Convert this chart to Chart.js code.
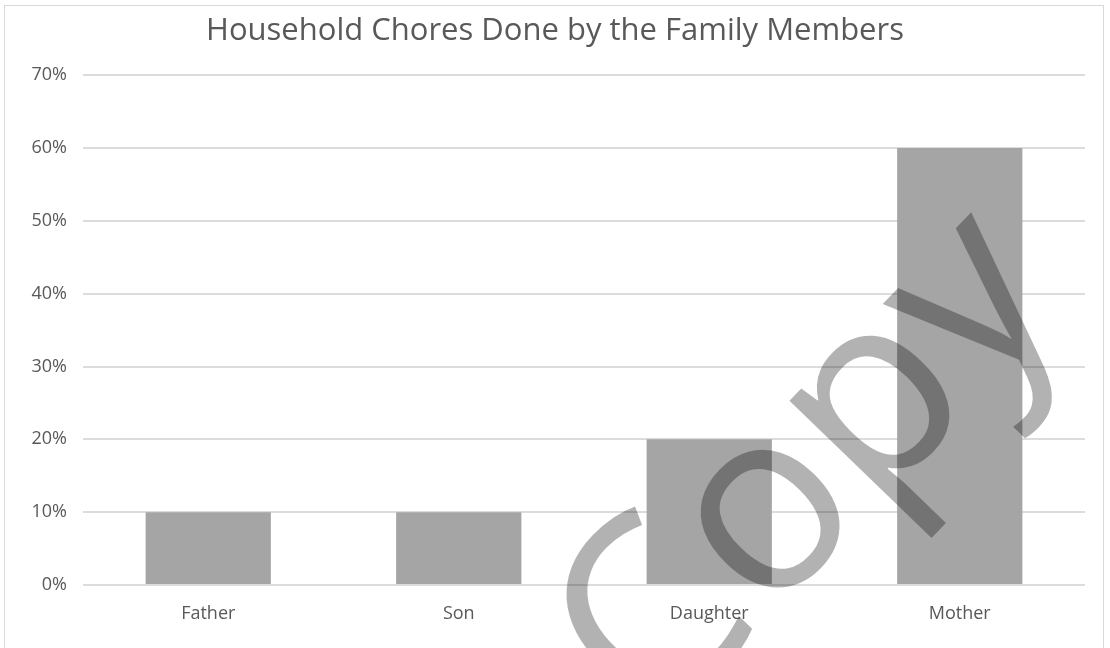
<!DOCTYPE html>
<html>
<head>
<meta charset="utf-8">
<script src="https://cdn.jsdelivr.net/npm/chart.js@4.4.1/dist/chart.umd.min.js"></script>
<style>
  html, body { margin: 0; padding: 0; background: #fff; overflow: hidden; }
  #wrap { position: relative; width: 1110px; height: 648px; }
  #frame { position: absolute; left: 4px; top: 5px; width: 1100px; height: 700px; border: 1px solid #d9d9d9; box-sizing: border-box; }
  canvas { position: absolute; left: 0; top: 0; }
</style>
</head>
<body>
<div id="wrap">
  <div id="frame"></div>
  <canvas id="c" width="1110" height="648"></canvas>
</div>
<script>
const chartTitle = "Household Chores Done by the Family Members";
const categories = ["Father", "Son", "Daughter", "Mother"];
const shares = [0.10, 0.10, 0.20, 0.60];
const yTicks = [0, 0.1, 0.2, 0.3, 0.4, 0.5, 0.6, 0.7];
const watermarkText = "Copy";

const textColor = "#595959";
const gridColor = "#dcdcdc";
const barColor = "#a5a5a5";
const FONT = "'Open Sans', 'Noto Sans', sans-serif";

const watermark = {
  id: "watermark",
  afterDraw(chart) {
    const ctx = chart.ctx;
    ctx.save();
    ctx.font = "255px " + FONT;
    ctx.fillStyle = "rgba(0,0,0,0.3)";
    ctx.textBaseline = "alphabetic";
    ctx.translate(770, 518);
    ctx.rotate(-46 * Math.PI / 180);
    ctx.fillText(watermarkText, -238, 69);
    ctx.restore();
  }
};

new Chart(document.getElementById("c"), {
  type: "bar",
  data: {
    labels: categories,
    datasets: [{
      data: shares,
      backgroundColor: barColor,
      borderWidth: 0,
      categoryPercentage: 0.5,
      barPercentage: 1.0
    }]
  },
  options: {
    responsive: false,
    animation: false,
    devicePixelRatio: 1,
    layout: { padding: 0 },
    plugins: {
      legend: { display: false },
      tooltip: { enabled: false },
      title: {
        display: true,
        text: chartTitle,
        color: textColor,
        font: { family: FONT, size: 31, weight: "normal" },
        padding: { top: 13, bottom: 25 }
      }
    },
    scales: {
      x: {
        grid: { display: false, drawTicks: false },
        border: { display: false },
        ticks: { color: textColor, font: { family: FONT, size: 18 }, padding: 18 },
        afterFit(s) { s.height = 63; }
      },
      y: {
        min: 0,
        max: 0.7,
        afterBuildTicks(s) { s.ticks = yTicks.map(v => ({ value: v })); },
        grid: { color: gridColor, lineWidth: 2, drawTicks: false },
        border: { display: false },
        ticks: {
          color: textColor,
          font: { family: FONT, size: 18 },
          padding: 16,
          callback: v => Math.round(v * 100) + "%"
        },
        afterFit(s) { s.width = 83; }
      },
      yRight: {
        position: "right",
        display: true,
        grid: { display: false, drawTicks: false },
        border: { display: false },
        ticks: { display: false },
        afterFit(s) { s.width = 25; }
      }
    }
  },
  plugins: [watermark]
});
</script>
</body>
</html>
